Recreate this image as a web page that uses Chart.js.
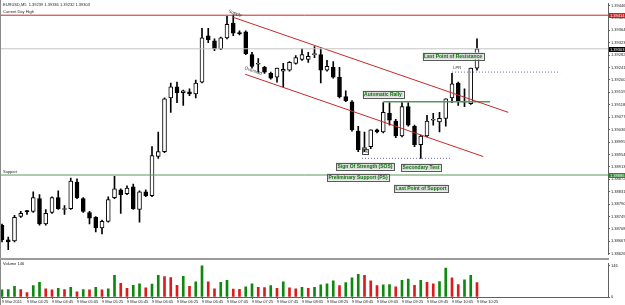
<!DOCTYPE html>
<html>
<head>
<meta charset="utf-8">
<script src="https://cdn.jsdelivr.net/npm/chart.js@4"></script>
<style>
  html, body { margin: 0; padding: 0; background: #fff; }
  #wrap { position: relative; width: 625px; height: 305px; overflow: hidden; }
  #price-box { position: absolute; left: 0; top: 0; width: 625px; height: 258px; }
  #sep { position: absolute; left: 0; top: 258px; width: 609px; height: 2px; background: #9a9a9a; }
  #vol-box { position: absolute; left: 0; top: 260px; width: 625px; height: 45px; }
</style>
</head>
<body>
<div id="wrap">
  <div id="price-box"><canvas id="price"></canvas></div>
  <div id="sep"></div>
  <div id="vol-box"><canvas id="vol"></canvas></div>
</div>
<script>
// EURUSD M5, 9 Mar 2011 04:05 .. 10:25
const opens = [1.38720,1.38672,1.38668,1.38749,1.38766,1.38766,1.38808,1.38724,1.38762,1.38811,
  1.38772,1.38775,1.38863,1.38808,1.38762,1.38746,1.38711,1.38733,1.38811,1.38837,
  1.38824,1.38847,1.38772,1.38830,1.38818,1.38947,1.38963,1.39141,1.39177,1.39158,
  1.39161,1.39154,1.39193,1.39346,1.39329,1.39303,1.39339,1.39388,1.39355,1.39359,
  1.39284,1.39252,1.39242,1.39222,1.39209,1.39229,1.39232,1.39255,1.39268,1.39268,
  1.39284,1.39284,1.39232,1.39242,1.39209,1.39145,1.39128,1.39031,1.38973,1.38980,
  1.39035,1.39028,1.39090,1.39064,1.39015,1.39112,1.39047,1.38986,1.39015,1.39067,
  1.39061,1.39073,1.39141,1.39190,1.39128,1.39122,1.39239];
const highs = [1.38724,1.38681,1.38753,1.38766,1.38769,1.38830,1.38821,1.38772,1.38814,1.38834,
  1.38785,1.38876,1.38873,1.38811,1.38766,1.38749,1.38737,1.38814,1.38882,1.38840,
  1.38850,1.38856,1.38834,1.38837,1.38980,1.39028,1.39141,1.39190,1.39193,1.39167,
  1.39171,1.39200,1.39371,1.39371,1.39336,1.39342,1.39410,1.39414,1.39362,1.39362,
  1.39291,1.39271,1.39245,1.39226,1.39239,1.39255,1.39261,1.39281,1.39303,1.39291,
  1.39310,1.39303,1.39265,1.39261,1.39242,1.39164,1.39132,1.39047,1.39028,1.39035,
  1.39038,1.39125,1.39125,1.39070,1.39125,1.39125,1.39051,1.39018,1.39083,1.39090,
  1.39093,1.39138,1.39222,1.39193,1.39171,1.39239,1.39336];
const lows = [1.38665,1.38639,1.38665,1.38746,1.38756,1.38762,1.38720,1.38720,1.38759,1.38772,
  1.38756,1.38772,1.38808,1.38762,1.38724,1.38698,1.38691,1.38730,1.38808,1.38759,
  1.38821,1.38772,1.38730,1.38814,1.38814,1.38941,1.38960,1.39093,1.39125,1.39116,
  1.39148,1.39141,1.39190,1.39323,1.39297,1.39300,1.39336,1.39346,1.39349,1.39284,
  1.39239,1.39226,1.39222,1.39203,1.39193,1.39177,1.39229,1.39252,1.39265,1.39258,
  1.39274,1.39190,1.39229,1.39206,1.39141,1.39128,1.39031,1.38963,1.38963,1.38973,
  1.39025,1.39025,1.39051,1.39009,1.39012,1.39047,1.38980,1.38941,1.39012,1.39051,
  1.39028,1.39047,1.39125,1.39116,1.39112,1.39119,1.39232];
const closes = [1.38672,1.38665,1.38746,1.38759,1.38765,1.38811,1.38724,1.38759,1.38811,1.38775,
  1.38773,1.38866,1.38811,1.38766,1.38743,1.38711,1.38733,1.38805,1.38840,1.38821,
  1.38843,1.38775,1.38830,1.38818,1.38950,1.38963,1.39138,1.39177,1.39158,1.39164,
  1.39154,1.39190,1.39339,1.39333,1.39303,1.39339,1.39384,1.39355,1.39353,1.39287,
  1.39245,1.39254,1.39226,1.39206,1.39239,1.39235,1.39258,1.39274,1.39284,1.39278,
  1.39285,1.39232,1.39245,1.39209,1.39145,1.39132,1.39035,1.38970,1.38974,1.39035,
  1.39028,1.39093,1.39067,1.39015,1.39112,1.39051,1.38986,1.39015,1.39064,1.39068,
  1.39073,1.39138,1.39187,1.39128,1.39127,1.39239,1.39303];
const volumes = [33,35,50,35,21,53,68,38,33,40,35,45,24,35,34,45,33,38,101,64,
  41,54,61,43,60,101,95,91,54,97,50,71,146,71,38,68,78,37,36,47,
  62,45,44,53,41,71,43,38,45,41,45,57,61,75,53,67,89,106,101,75,
  53,57,58,48,78,84,54,78,68,61,72,135,89,58,80,101,67];

const xTickLabels = ["9 Mar 2011","9 Mar 04:25","9 Mar 04:45","9 Mar 05:05","9 Mar 05:25",
  "9 Mar 05:45","9 Mar 06:05","9 Mar 06:25","9 Mar 06:45","9 Mar 07:05","9 Mar 07:25",
  "9 Mar 07:45","9 Mar 08:05","9 Mar 08:25","9 Mar 08:45","9 Mar 09:05","9 Mar 09:25",
  "9 Mar 09:45","9 Mar 10:05","9 Mar 10:25"];
const yTickLabels = ["1.39446","1.39405","1.39364","1.39323","1.39282","1.39241","1.39200",
  "1.39159","1.39118","1.39077","1.39036","1.38995","1.38954","1.38913","1.38872","1.38831",
  "1.38790","1.38749","1.38708","1.38667","1.38626"];

const dayHigh = 1.39414;
const supportLevel = 1.38886;
const arLevel = 1.39128;
const stLevel = 1.38941;
const lprLevel = 1.39226;

const last = closes.length - 1;
const bid = closes[last];
const header = `EURUSD,M5  ${opens[last].toFixed(5)} ${highs[last].toFixed(5)} ${lows[last].toFixed(5)} ${closes[last].toFixed(5)}`;

const xMin = -0.16, xMax = 96.96;
const font = "Liberation Sans";
const colors = {
    red: "#c82828",
    green: "#5a965a",
    grey: "#c4c4c4",
    dots: "#6c6cb4",
    axis: "#606060",
    text: "#222222",
    label: "#0b760b",
    volUp: "#0e880e",
    volDown: "#dc1c1c",
};

function line(points, color, width, dash) {
    return {
	type: "line",
	order: 0,
	data: points.map(p => ({ x: p[0], y: p[1] })),
	borderColor: color,
	borderWidth: width,
	borderDash: dash || [],
	pointRadius: 0,
	fill: false,
    };
}

const markups = {
    id: "markups",
    afterDatasetsDraw(chart) {
	const { ctx, scales: { x, y } } = chart;
	ctx.save();
	ctx.textBaseline = "middle";

	ctx.font = `4px "${font}"`;
	ctx.fillStyle = colors.text;
	ctx.textAlign = "left";
	ctx.fillText(header, 3, 5);
	ctx.fillText("Current Day High", 3, y.getPixelForValue(dayHigh) - 3);
	ctx.fillText("Support", 3, y.getPixelForValue(supportLevel) - 3);

	// rotated channel notes
	const slope = Math.atan(0.353);
	[["Supply", 37.3, 1.39420], ["Oversold", 40.2, 1.39230]].forEach(([t, bx, by]) => {
	    ctx.save();
	    ctx.translate(x.getPixelForValue(bx), y.getPixelForValue(by));
	    ctx.rotate(slope);
	    ctx.font = `4.5px "${font}"`;
	    ctx.fillStyle = "#333";
	    ctx.textAlign = "center";
	    ctx.fillText(t, 0, 0);
	    ctx.restore();
	});

	// wyckoff labels
	const boxes = [
	    ["Automatic Rally", 61.0, 1.39154],
	    ["Sign Of Strength (SOS)", 58.1, 1.38916],
	    ["Secondary Test", 67.0, 1.38911],
	    ["Preliminary Support (PS)", 57.0, 1.38879],
	    ["Last Point of Support", 67.1, 1.38843],
	    ["Last Point of Resistance", 72.1, 1.39278],
	];
	ctx.font = `bold 5px "${font}"`;
	ctx.textAlign = "center";
	boxes.forEach(([t, bx, by]) => {
	    const px = Math.round(x.getPixelForValue(bx));
	    const py = Math.round(y.getPixelForValue(by));
	    const w = Math.round(ctx.measureText(t).width + 3);
	    const h = 7;
	    ctx.fillStyle = "#dcdcdc";
	    ctx.fillRect(px - w / 2, py - h / 2, w, h);
	    ctx.strokeStyle = "#5a5a5a";
	    ctx.lineWidth = 1;
	    ctx.strokeRect(Math.round(px - w / 2) + 0.5, Math.round(py - h / 2) + 0.5, w, h);
	    ctx.fillStyle = colors.label;
	    ctx.fillText(t, px, py + 0.5);
	});

	ctx.font = `4px "${font}"`;
	ctx.fillStyle = colors.text;
	ctx.textAlign = "left";
	ctx.fillText("PS", x.getPixelForValue(57.7), y.getPixelForValue(1.38963));
	ctx.strokeStyle = "#444";
	ctx.strokeRect(Math.round(x.getPixelForValue(57.6)) + 0.5, Math.round(y.getPixelForValue(1.38973)) + 0.5, 6, 5);
	ctx.fillText("LPR", x.getPixelForValue(72.2), y.getPixelForValue(1.39239));

	// price axis markers
	[[dayHigh, "#d02020"], [bid, "#000000"], [supportLevel, "#2a8a2a"]].forEach(([v, c]) => {
	    const py = Math.round(y.getPixelForValue(v));
	    ctx.fillStyle = c;
	    ctx.fillRect(609, py - 2, 16, 5);
	    ctx.fillStyle = "#fff";
	    ctx.textAlign = "left";
	    ctx.fillText(v.toFixed(5), 610, py + 0.5);
	});

	// left frame
	ctx.fillStyle = "#8a8a8a";
	ctx.fillRect(0, 0, 1, chart.height);
	ctx.restore();
    }
};

const priceChart = new Chart(document.getElementById("price"), {
    type: "bar",
    data: {
	datasets: [
	    line([[xMin, dayHigh], [xMax, dayHigh]], colors.red, 1),
	    line([[xMin, bid], [xMax, bid]], colors.grey, 1),
	    line([[xMin, supportLevel], [xMax, supportLevel]], colors.green, 1),
	    line([[37.0, 1.39407], [81.0, 1.39093]], colors.red, 1),
	    line([[38.9, 1.39219], [77.0, 1.38947]], colors.red, 1),
	    line([[61.0, arLevel], [78.1, arLevel]], colors.green, 1.5),
	    line([[57.6, stLevel], [72.0, stLevel]], colors.dots, 1, [1, 2]),
	    line([[72.0, lprLevel], [89.3, lprLevel]], colors.dots, 1, [1, 2]),
	    {
		label: "body",
		order: 1,
		grouped: false,
		data: opens.map((o, i) => ({ x: i, y: [o, closes[i]] })),
		backgroundColor: opens.map((o, i) => closes[i] >= o ? "#ffffff" : "#000000"),
		borderColor: "#000000",
		borderWidth: 1,
		borderSkipped: false,
		barThickness: 4,
		minBarLength: 1,
	    },
	    {
		label: "wick",
		order: 2,
		grouped: false,
		data: lows.map((l, i) => ({ x: i, y: [l, highs[i]] })),
		backgroundColor: "#000000",
		barThickness: 1,
		minBarLength: 1,
	    },
	],
    },
    options: {
	responsive: true,
	maintainAspectRatio: false,
	animation: false,
	layout: { padding: { top: 2, left: 1, right: 0, bottom: 0 } },
	plugins: { legend: { display: false }, tooltip: { enabled: false } },
	scales: {
	    x: {
		type: "linear", display: false, min: xMin, max: xMax, offset: false,
		grid: { display: false },
	    },
	    y: {
		position: "right", min: 1.38623, max: 1.39453,
		afterFit(s) { s.width = 17; },
		afterBuildTicks(s) { s.ticks = yTickLabels.map(t => ({ value: parseFloat(t) })); },
		ticks: {
		    autoSkip: false, padding: 1, color: colors.text,
		    font: { size: 4, family: font },
		    callback: (v, i) => yTickLabels[i],
		},
		grid: { drawOnChartArea: false, tickLength: 2, color: colors.axis },
		border: { color: colors.axis },
	    },
	},
    },
    plugins: [markups],
});

const volColors = volumes.map((v, i) => i === 0 || v > volumes[i - 1] ? colors.volUp : colors.volDown);
const volMax = Math.max(...volumes);

const volNotes = {
    id: "volNotes",
    afterDatasetsDraw(chart) {
	const { ctx } = chart;
	ctx.save();
	ctx.font = `4px "${font}"`;
	ctx.fillStyle = colors.text;
	ctx.textBaseline = "middle";
	ctx.fillText(`Volume ${volMax}`, 3, 4);
	ctx.fillStyle = "#8a8a8a";
	ctx.fillRect(0, 0, 1, chart.height);
	ctx.restore();
    }
};

const volChart = new Chart(document.getElementById("vol"), {
    type: "bar",
    data: {
	datasets: [{
	    data: volumes.map((v, i) => ({ x: i, y: v })),
	    backgroundColor: volColors,
	    barThickness: 2,
	}],
    },
    options: {
	responsive: true,
	maintainAspectRatio: false,
	animation: false,
	layout: { padding: { top: 0, left: 1, right: 0, bottom: 0 } },
	plugins: { legend: { display: false }, tooltip: { enabled: false } },
	scales: {
	    x: {
		type: "linear", min: xMin, max: xMax, offset: false,
		afterFit(s) { s.height = 8; },
		afterBuildTicks(s) { s.ticks = xTickLabels.map((_, k) => ({ value: k * 4 })); },
		ticks: {
		    autoSkip: false, maxRotation: 0, align: "start", padding: 0,
		    color: colors.text, font: { size: 4, family: font },
		    callback: (v, i) => xTickLabels[i],
		},
		grid: { drawOnChartArea: false, tickLength: 2, color: colors.axis, offset: false },
		border: { color: colors.axis },
	    },
	    y: {
		position: "right", min: 0, max: 157,
		afterFit(s) { s.width = 17; },
		afterBuildTicks(s) { s.ticks = [{ value: 0 }, { value: volMax }]; },
		ticks: {
		    autoSkip: false, padding: 1, color: colors.text,
		    font: { size: 4, family: font },
		},
		grid: { drawOnChartArea: false, tickLength: 2, color: colors.axis },
		border: { color: colors.axis },
	    },
	},
    },
    plugins: [volNotes],
});
</script>
</body>
</html>
